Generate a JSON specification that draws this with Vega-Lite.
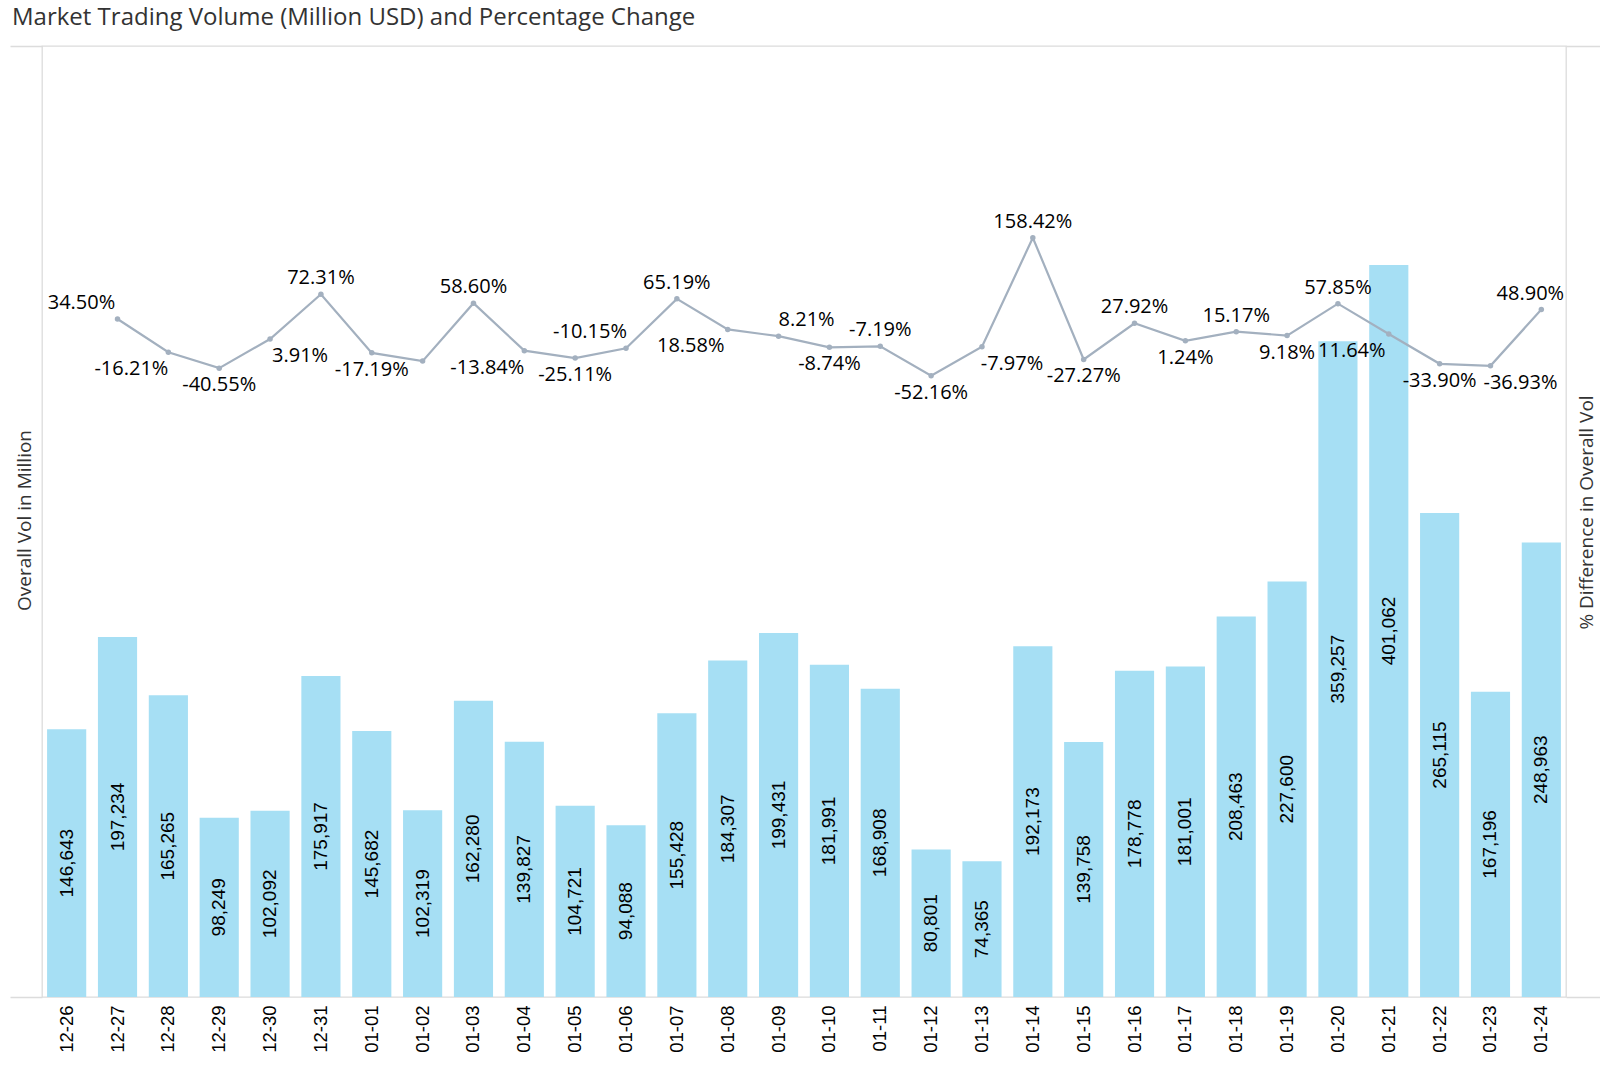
{
  "$schema": "https://vega.github.io/schema/vega-lite/v6.json",
  "title": {
    "text": "Market Trading Volume (Million USD) and Percentage Change",
    "anchor": "start",
    "frame": "group",
    "font": "Open Sans",
    "fontSize": 24,
    "fontWeight": "normal",
    "color": "#333333",
    "baseline": "alphabetic",
    "offset": 19,
    "dx": -30,
    "dy": 23
  },
  "autosize": {"type": "none"},
  "padding": {"left": 42, "top": 46, "right": 34, "bottom": 75},
  "width": 1524,
  "height": 951,
  "background": "white",
  "config": {
    "view": {"stroke": "#dcdcdc", "strokeWidth": 1.3},
    "locale": {
      "number": {"decimal": ".", "thousands": ",", "grouping": [3], "currency": ["$", ""], "minus": "-"}
    }
  },
  "data": {
    "values": [
      {"d": "12-26", "vol": 146643},
      {"d": "12-27", "vol": 197234, "pct": 0.3450},
      {"d": "12-28", "vol": 165265, "pct": -0.1621},
      {"d": "12-29", "vol": 98249, "pct": -0.4055},
      {"d": "12-30", "vol": 102092, "pct": 0.0391},
      {"d": "12-31", "vol": 175917, "pct": 0.7231},
      {"d": "01-01", "vol": 145682, "pct": -0.1719},
      {"d": "01-02", "vol": 102319, "pct": -0.2977},
      {"d": "01-03", "vol": 162280, "pct": 0.5860},
      {"d": "01-04", "vol": 139827, "pct": -0.1384},
      {"d": "01-05", "vol": 104721, "pct": -0.2511},
      {"d": "01-06", "vol": 94088, "pct": -0.1015},
      {"d": "01-07", "vol": 155428, "pct": 0.6519},
      {"d": "01-08", "vol": 184307, "pct": 0.1858},
      {"d": "01-09", "vol": 199431, "pct": 0.0821},
      {"d": "01-10", "vol": 181991, "pct": -0.0874},
      {"d": "01-11", "vol": 168908, "pct": -0.0719},
      {"d": "01-12", "vol": 80801, "pct": -0.5216},
      {"d": "01-13", "vol": 74365, "pct": -0.0797},
      {"d": "01-14", "vol": 192173, "pct": 1.5842},
      {"d": "01-15", "vol": 139758, "pct": -0.2727},
      {"d": "01-16", "vol": 178778, "pct": 0.2792},
      {"d": "01-17", "vol": 181001, "pct": 0.0124},
      {"d": "01-18", "vol": 208463, "pct": 0.1517},
      {"d": "01-19", "vol": 227600, "pct": 0.0918},
      {"d": "01-20", "vol": 359257, "pct": 0.5785},
      {"d": "01-21", "vol": 401062, "pct": 0.1164},
      {"d": "01-22", "vol": 265115, "pct": -0.3390},
      {"d": "01-23", "vol": 167196, "pct": -0.3693},
      {"d": "01-24", "vol": 248963, "pct": 0.4890}
    ]
  },
  "encoding": {
    "x": {
      "field": "d",
      "type": "ordinal",
      "sort": null,
      "scale": {"paddingInner": 0.23, "paddingOuter": 0.1},
      "axis": {
        "title": null,
        "labelAngle": -90,
        "labelFont": "Liberation Sans",
        "labelFontSize": 18.5,
        "labelColor": "#000000",
        "labelPadding": 8,
        "ticks": false,
        "domain": false
      }
    }
  },
  "layer": [
    {
      "mark": {"type": "bar", "color": "#a6dff4"},
      "encoding": {
        "y": {
          "field": "vol",
          "type": "quantitative",
          "scale": {"domain": [0, 521000], "nice": false},
          "axis": {
            "orient": "left",
            "title": "Overall Vol in Million",
            "titleFont": "Open Sans",
            "titleFontSize": 19,
            "titleFontWeight": "normal",
            "titleColor": "#333333",
            "titleAngle": 270,
            "titleAlign": "center",
            "titleBaseline": "middle",
            "titleX": -18,
            "titleY": 474,
            "values": [0, 521000],
            "labels": false,
            "grid": false,
            "domain": false,
            "tickSize": 32,
            "tickColor": "#dcdcdc",
            "tickWidth": 1.3
          }
        }
      }
    },
    {
      "mark": {
        "type": "text",
        "angle": 270,
        "align": "center",
        "baseline": "middle",
        "font": "Liberation Sans",
        "fontSize": 19,
        "color": "#000000"
      },
      "encoding": {
        "y": {
          "field": "vol",
          "type": "quantitative",
          "scale": {"domain": [0, 1042000], "nice": false},
          "axis": null
        },
        "text": {"field": "vol", "type": "quantitative", "format": ","}
      }
    },
    {
      "transform": [{"filter": "isValid(datum.pct)"}],
      "encoding": {
        "y": {
          "field": "pct",
          "type": "quantitative",
          "scale": {"domain": [-10, 4.51], "nice": false, "zero": false},
          "axis": {
            "orient": "right",
            "title": "% Difference in Overall Vol",
            "titleFont": "Open Sans",
            "titleFontSize": 19,
            "titleFontWeight": "normal",
            "titleColor": "#333333",
            "titleAngle": 270,
            "titleAlign": "center",
            "titleBaseline": "middle",
            "titleX": 20,
            "titleY": 466,
            "values": [-10, 4.51],
            "labels": false,
            "grid": false,
            "domain": false,
            "tickSize": 34,
            "tickColor": "#dcdcdc",
            "tickWidth": 1.3
          }
        },
        "text": {"field": "pct", "type": "quantitative", "format": ".2%"}
      },
      "layer": [
        {"mark": {"type": "line", "color": "#a3b0bf", "strokeWidth": 2.2}},
        {"mark": {"type": "point", "filled": true, "color": "#a3b0bf", "size": 30, "opacity": 1}},
        {
          "transform": [{"filter": "indexof(['12-31','01-03','01-07','01-11','01-14','01-16','01-18','01-20'], datum.d) >= 0"}],
          "mark": {"type": "text", "font": "Open Sans", "fontSize": 20, "color": "#000000", "baseline": "alphabetic", "dy": -10}
        },
        {
          "transform": [{"filter": "indexof(['12-27','01-06'], datum.d) >= 0"}],
          "mark": {"type": "text", "font": "Open Sans", "fontSize": 20, "color": "#000000", "baseline": "alphabetic", "dy": -10, "dx": -36}
        },
        {
          "transform": [{"filter": "datum.d == '01-09'"}],
          "mark": {"type": "text", "font": "Open Sans", "fontSize": 20, "color": "#000000", "baseline": "alphabetic", "dy": -10, "dx": 28}
        },
        {
          "transform": [{"filter": "datum.d == '01-24'"}],
          "mark": {"type": "text", "font": "Open Sans", "fontSize": 20, "color": "#000000", "baseline": "alphabetic", "dy": -10, "dx": -11}
        },
        {
          "transform": [{"filter": "indexof(['12-29','01-01','01-05','01-10','01-12','01-15','01-17','01-19','01-22'], datum.d) >= 0"}],
          "mark": {"type": "text", "font": "Open Sans", "fontSize": 20, "color": "#000000", "baseline": "alphabetic", "dy": 23}
        },
        {
          "transform": [{"filter": "indexof(['12-28','01-04','01-08','01-21'], datum.d) >= 0"}],
          "mark": {"type": "text", "font": "Open Sans", "fontSize": 20, "color": "#000000", "baseline": "alphabetic", "dy": 23, "dx": -37}
        },
        {
          "transform": [{"filter": "indexof(['12-30','01-13','01-23'], datum.d) >= 0"}],
          "mark": {"type": "text", "font": "Open Sans", "fontSize": 20, "color": "#000000", "baseline": "alphabetic", "dy": 23, "dx": 30}
        }
      ]
    }
  ],
  "resolve": {"scale": {"y": "independent"}}
}
